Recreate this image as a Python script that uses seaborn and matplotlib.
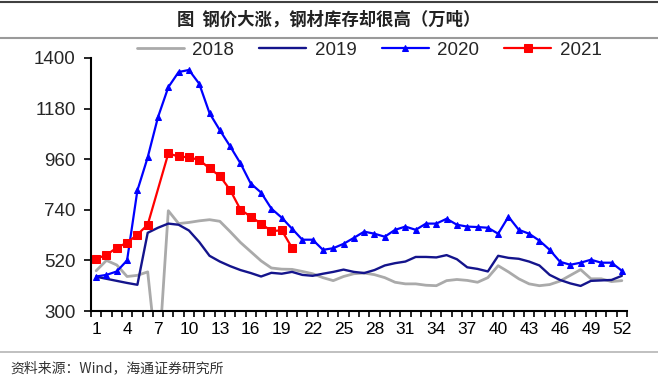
import numpy as np
import pandas as pd
import matplotlib
matplotlib.use("Agg")
import matplotlib.pyplot as plt
from matplotlib.lines import Line2D
import seaborn as sns

weeks = list(range(1, 53))

s2018 = [475, 520, 500, 450, 455, 470, 50, 736, 680, 685,
         692, 697, 690, 645, 598, 558, 518, 487, 482, 481,
         472, 462, 445, 432, 450, 462, 465, 458, 445, 425,
         418, 418, 412, 410, 432, 437, 433, 425, 445, 497,
         470, 440, 418, 410, 415, 430, 455, 480, 440, 440,
         428, 432]

s2019 = [449, 440, 431, 422, 414, 640, 662, 680, 675, 650,
         600, 540, 515, 495, 478, 465, 450, 466, 462, 470,
         457, 453, 462, 470, 480, 470, 465, 478, 498, 508,
         515, 535, 535, 533, 543, 525, 490, 483, 472, 540,
         531, 527, 515, 498, 457, 435, 420, 409, 431, 433,
         435, 453]

s2020 = [450, 457, 472, 520, 824, 968, 1143, 1273, 1339, 1348,
         1288, 1160, 1086, 1016, 942, 854, 815, 745, 706, 658,
         610, 610, 566, 573, 592, 618, 645, 636, 623, 653,
         667, 653, 680, 680, 701, 675, 667, 665, 662, 636,
         710, 653, 636, 606, 566, 514, 501, 510, 523, 510,
         510, 475]

s2021 = [527, 544, 575, 597, 632, 675, np.nan, 985, 972, 968,
         957, 920, 887, 826, 741, 710, 680, 647, 651, 575]

series_names = ["2018", "2019", "2020", "2021"]
yticks = [300, 520, 740, 960, 1180, 1400]
xtick_labels = list(range(1, 53, 3))

title_text = "图  钢价大涨，钢材库存却很高（万吨）"
source_text = "资料来源：Wind，海通证券研究所"

sns.set_theme(style="white")
plt.rcParams["font.family"] = ["Liberation Sans", "Noto Sans CJK SC", "DejaVu Sans"]

fig = plt.figure(figsize=(6.58, 3.83), dpi=100)
ax = fig.add_axes([91 / 658, 1 - 311 / 383, 536 / 658, (311 - 58) / 383])

styles = {
    "2018": dict(color="#AAAAAA", lw=2.0, marker=None, ms=0),
    "2019": dict(color="#14148C", lw=1.7, marker=None, ms=0),
    "2020": dict(color="#0000FF", lw=1.6, marker="^", ms=4.5),
    "2021": dict(color="#FF0000", lw=1.6, marker="s", ms=5.8),
}
data = {"2018": s2018, "2019": s2019, "2020": s2020, "2021": s2021}

for name in series_names:
    vals = data[name]
    df = pd.DataFrame({"week": weeks[:len(vals)], "value": vals})
    st = styles[name]
    kw = {}
    if st["marker"]:
        kw = dict(marker=st["marker"], markersize=st["ms"],
                  markeredgecolor=st["color"], markerfacecolor=st["color"])
    sns.lineplot(data=df, x="week", y="value", ax=ax, color=st["color"],
                 linewidth=st["lw"], label=name, errorbar=None, sort=True, **kw)

ax.set_xlim(0.5, 52.5)
ax.set_ylim(300, 1400)
ax.set_yticks(yticks)
ax.set_yticklabels([str(v) for v in yticks], fontsize=13.5)
ax.set_xticks(xtick_labels)
ax.set_xticklabels([str(v) for v in xtick_labels], fontsize=12.5)
ax.set_xticks(np.arange(0.5, 53, 1), minor=True)
ax.tick_params(axis="x", which="major", length=0, pad=8, colors="black")
ax.tick_params(axis="x", which="minor", length=4, width=1.2, direction="out", color="black", bottom=True)
ax.tick_params(axis="y", which="major", length=5, width=1.2, direction="out", color="black", left=True, pad=6)
ax.set_xlabel("")
ax.set_ylabel("")
for sp in ["top", "right"]:
    ax.spines[sp].set_visible(False)
for sp in ["left", "bottom"]:
    ax.spines[sp].set_color("black")
    ax.spines[sp].set_linewidth(1.5)
ax.grid(False)

leg = ax.legend(loc="center", bbox_to_anchor=(0.519, 1.03), ncol=4, frameon=False,
                fontsize=13.5, handlelength=2.5, handletextpad=0.45,
                columnspacing=1.35, borderpad=0)

fig.add_artist(Line2D([0, 1], [1 - 2 / 383, 1 - 2 / 383], color="#404040", lw=1.5))
fig.add_artist(Line2D([0, 1], [1 - 38 / 383, 1 - 38 / 383], color="#9a9a9a", lw=1.5))
fig.add_artist(Line2D([0, 1], [1 - 352 / 383, 1 - 352 / 383], color="#b5b5b5", lw=1.2))

fig.text(0.5, 1 - 20 / 383, title_text, ha="center", va="center", fontsize=12.5,
         fontweight="bold", family=["Noto Sans CJK SC", "DejaVu Sans"], color="#222222")
fig.text(10 / 658, 1 - 368 / 383, source_text, ha="left", va="center", fontsize=10,
         family=["Noto Sans CJK SC", "DejaVu Sans"], color="#333333")

fig.savefig("out.png", dpi=100, facecolor="white")
